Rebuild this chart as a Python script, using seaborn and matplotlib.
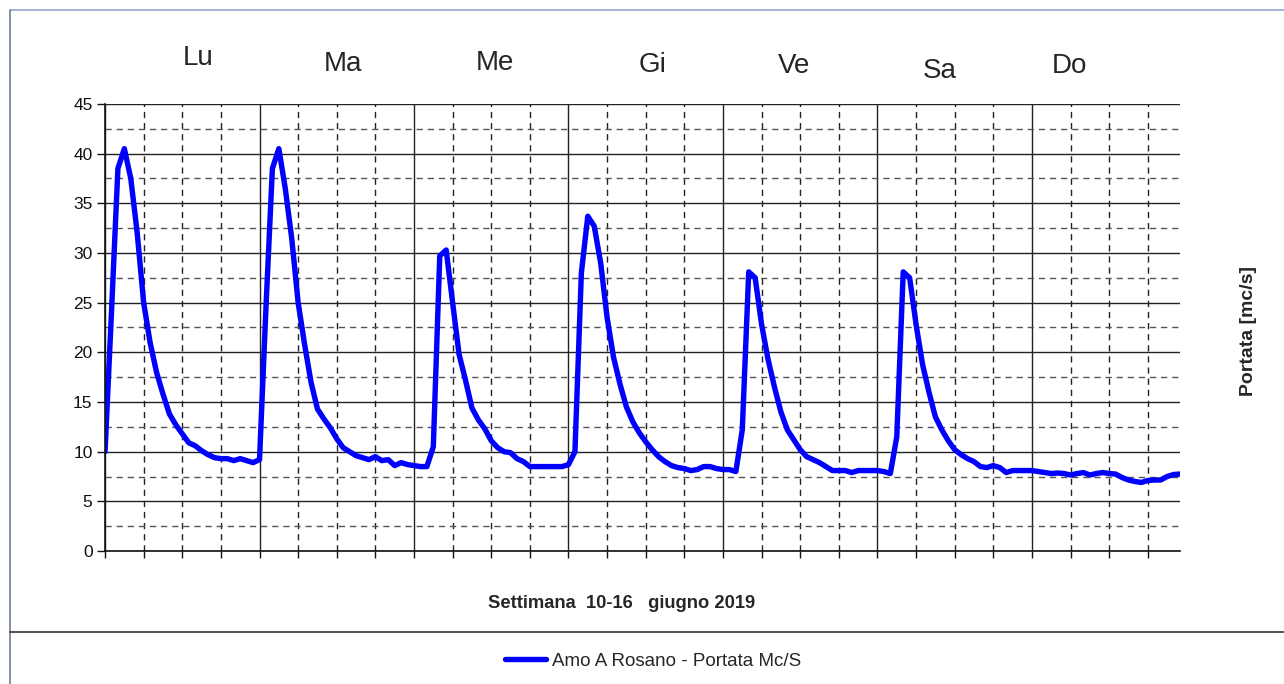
import numpy as np
import pandas as pd
import matplotlib.pyplot as plt
import seaborn as sns
from matplotlib.lines import Line2D
from matplotlib.ticker import MultipleLocator, NullFormatter

sns.set_style("white")
plt.rcParams['font.family'] = ['Liberation Sans', 'DejaVu Sans']

# portata oraria (mc/s), una lista per giorno, ore 0-23
lun = [10.0, 24.0, 38.5, 40.5, 37.5, 32.0, 25.0, 21.0, 18.0, 15.8, 13.8, 12.7,
       11.8, 10.9, 10.6, 10.1, 9.7, 9.4, 9.3, 9.3, 9.1, 9.3, 9.1, 8.9]
mar = [9.2, 24.5, 38.5, 40.5, 36.5, 31.5, 25.0, 20.8, 17.0, 14.3, 13.3, 12.4,
       11.3, 10.4, 10.0, 9.6, 9.4, 9.2, 9.5, 9.1, 9.2, 8.6, 8.9, 8.7]
mer = [8.6, 8.5, 8.5, 10.5, 29.7, 30.3, 25.0, 19.8, 17.2, 14.4, 13.2, 12.3,
       11.1, 10.4, 10.0, 9.9, 9.3, 9.0, 8.5, 8.5, 8.5, 8.5, 8.5, 8.5]
gio = [8.7, 10.0, 28.0, 33.7, 32.7, 29.0, 23.5, 19.5, 16.8, 14.5, 13.0, 11.9,
       11.0, 10.2, 9.5, 9.0, 8.6, 8.4, 8.3, 8.1, 8.2, 8.5, 8.5, 8.3]
ven = [8.2, 8.2, 8.0, 12.2, 28.1, 27.5, 22.8, 19.3, 16.5, 14.0, 12.2, 11.2,
       10.2, 9.5, 9.2, 8.9, 8.5, 8.1, 8.1, 8.1, 7.9, 8.1, 8.1, 8.1]
sab = [8.1, 8.0, 7.8, 11.5, 28.1, 27.5, 22.8, 18.8, 16.0, 13.5, 12.2, 11.1,
       10.2, 9.7, 9.3, 9.0, 8.5, 8.4, 8.6, 8.4, 7.9, 8.1, 8.1, 8.1]
dom = [8.1, 8.0, 7.9, 7.8, 7.85, 7.8, 7.65, 7.8, 7.9, 7.65, 7.8, 7.9,
       7.8, 7.75, 7.4, 7.15, 7.0, 6.9, 7.1, 7.15, 7.15, 7.5, 7.7, 7.75]

giorni = ['Lu', 'Ma', 'Me', 'Gi', 'Ve', 'Sa', 'Do']
giorni_x = [14.5, 36.9, 60.5, 85.1, 107.0, 129.7, 149.8]   # posizione etichette (ore)
giorni_y = [1.103, 1.090, 1.092, 1.087, 1.085, 1.074, 1.085]

portata = lun + mar + mer + gio + ven + sab + dom
df = pd.DataFrame({'ora': np.arange(len(portata)), 'portata': portata})

fig = plt.figure(figsize=(12.84, 6.84), dpi=100)
ax = fig.add_axes([0.0818, 0.1944, 0.8372, 0.6536])

sns.lineplot(data=df, x='ora', y='portata', color='#0000ff', lw=3.9,
             ax=ax, legend=False)

ax.set_xlim(0, 167)
ax.set_ylim(0, 45)
ax.xaxis.set_major_locator(MultipleLocator(24))
ax.xaxis.set_minor_locator(MultipleLocator(6))
ax.yaxis.set_major_locator(MultipleLocator(5))
ax.yaxis.set_minor_locator(MultipleLocator(2.5))
ax.xaxis.set_major_formatter(NullFormatter())

ax.grid(which='major', color='#222222', lw=1.0, ls='-')
ax.grid(which='minor', axis='x', color='#222222', lw=1.0, ls=(0, (4.5, 3.5)))
ax.grid(which='minor', axis='y', color='#555555', lw=1.0, ls=(0, (4.5, 3.5)))
ax.set_axisbelow(True)

for s in ['top', 'right']:
    ax.spines[s].set_visible(False)
for s in ['left', 'bottom']:
    ax.spines[s].set_color('#111111')
    ax.spines[s].set_linewidth(1.2)

ax.tick_params(axis='y', which='major', direction='out', length=6, width=1,
               labelsize=12.5, pad=3, left=True, colors='#111111')
ax.tick_params(axis='y', which='minor', left=False)
ax.tick_params(axis='x', which='both', direction='out', length=5, width=1,
               bottom=True, colors='#111111')
ax.set_xlabel('')
ax.set_ylabel('')

for g, gx, gy in zip(giorni, giorni_x, giorni_y):
    ax.text(gx, gy, g, transform=ax.get_xaxis_transform(), ha='center',
            va='center', fontsize=20)

fig.text(0.972, 0.516, 'Portata [mc/s]', rotation=90, ha='center', va='center',
         fontsize=14, fontweight='bold')
fig.text(0.4845, 0.118, 'Settimana  10-16   giugno 2019', ha='center',
         va='center', fontsize=13.2, fontweight='bold')

# cornice
fig.add_artist(Line2D([0.0078, 1.0], [0.985, 0.985], color='#8fa8cf', lw=1.2))
fig.add_artist(Line2D([0.0078, 0.0078], [0.0, 0.985], color='#6d7f9c', lw=1.2))
fig.add_artist(Line2D([0.0078, 1.0], [0.0757, 0.0757], color='#333333', lw=1.2))

handle = Line2D([], [], color='#0000ff', lw=3.9)
fig.legend([handle], ['Amo A Rosano - Portata Mc/S'], loc='center',
           bbox_to_anchor=(0.5086, 0.0336), frameon=False, fontsize=13.5,
           handlelength=2.2, handletextpad=0.3)

fig.savefig('out.png', dpi=100)
